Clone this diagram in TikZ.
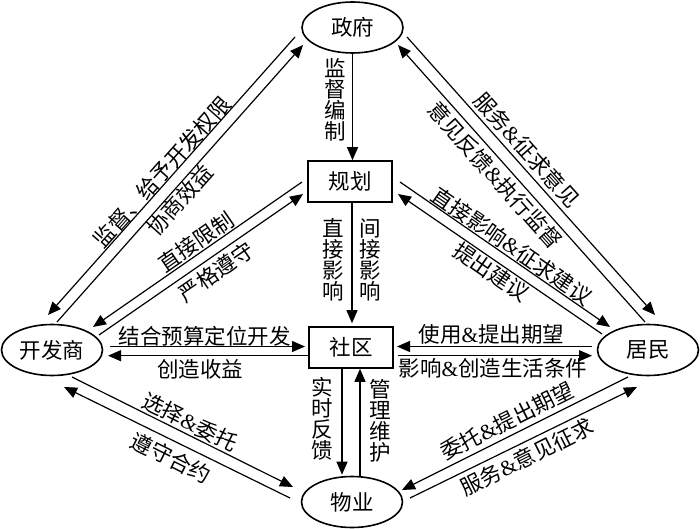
\documentclass[tikz,border=0pt]{standalone}
\usepackage{fontspec}
\setmainfont{Noto Sans CJK SC}
\newfontfamily\latinf{Liberation Serif}
\usetikzlibrary{arrows.meta,calc,shapes.geometric}
\newcommand\amp{{\latinf\&}}
\begin{document}
\begin{tikzpicture}[x=1pt,y=-1pt,
  every node/.style={font=\fontsize{21.5}{21}\selectfont, inner sep=0pt},
  ell/.style={draw, ellipse, line width=1.6pt, minimum width=101pt, minimum height=51pt},
  box/.style={draw, rectangle, line width=1.6pt, minimum width=84pt, minimum height=41pt},
  arr/.style={line width=1.2pt, -{Triangle[length=13pt,width=11pt]}},
  vlbl/.style={align=center}
]
\useasboundingbox (0,0) rectangle (700,529);
% nodes
\node[ell] (zf) at (352.5,27.5) {政府};
\node[box] (gh) at (350,181.5) {规划};
\node[box] (sq) at (351,347.5) {社区};
\node[ell] (kfs) at (52,350) {开发商};
\node[ell] (jm) at (648,350) {居民};
\node[ell] (wy) at (352,502) {物业};
% vertical
\draw[arr] (zf.south) -- (zf.south |- gh.north);
\draw[arr] ($(gh.south)+(2,0)$) -- ($(sq.north)+(1,-3)$);
\draw[arr] ($(sq.south)+(-9,0)$) -- ($(wy.north)+(-10,-1)$);
\draw[arr] ($(wy.north)+(8,0)$) -- ($(sq.south)+(9,0)$);
% horizontal
\draw[arr] ($(kfs)+(58,-3.5)$) -- ($(sq)+(-46,-1)$);
\draw[arr] ($(sq)+(-42,8.2)$) -- ($(kfs)+(56,5.7)$);
\draw[arr] ($(jm)+(-56,-3.5)$) -- ($(sq)+(46,-1)$);
\draw[arr] ($(sq)+(47,8.2)$) -- ($(jm)+(-56,5.7)$);
% diagonals upper left
\draw[arr] ($(zf)+(-57.5,9.5)$) -- ($(kfs)+(-4,-35)$);
\draw[arr] ($(kfs)+(5,-28)$) -- ($(zf)+(-49.5,17.5)$);
\draw[arr] ($(gh)+(-48,0.5)$) -- ($(kfs)+(41,-23)$);
\draw[arr] ($(kfs)+(47,-15)$) -- ($(gh)+(-47,12.5)$);
% diagonals upper right
\draw[arr] ($(zf)+(54.5,9.5)$) -- ($(jm)+(7,-35)$);
\draw[arr] ($(jm)+(-3,-28)$) -- ($(zf)+(45.5,17.5)$);
\draw[arr] ($(gh)+(50,0.5)$) -- ($(jm)+(-38,-23)$);
\draw[arr] ($(jm)+(-46,-16)$) -- ($(gh)+(48,12.5)$);
% lower
\draw[arr] ($(kfs)+(20,27)$) -- ($(wy)+(-59,-15)$);
\draw[arr] ($(wy)+(-62,-4)$) -- ($(kfs)+(12,37)$);
\draw[arr] ($(jm)+(-20,27)$) -- ($(wy)+(50,-12)$);
\draw[arr] ($(wy)+(58,-4)$) -- ($(jm)+(-11,37)$);
% diagonal labels
\node[rotate=48.4] (la) at (162,172) {监督、给予开发权限};
\node[rotate=48.4] (lb) at (180,200) {协商效益};
\node[rotate=34.7] (lc) at (196,242) {直接限制};
\node[rotate=34.7] (ld) at (216,272) {严格遵守};
\node[rotate=-48.3] (le) at (527,150) {服务\amp 征求意见};
\node[rotate=-48.3] (lf) at (495,175) {意见反馈\amp 执行监督};
\node[rotate=-34.6] (lg) at (512,246) {直接影响\amp 征求建议};
\node[rotate=-34.6] (lh) at (491,272) {提出建议};
\node[rotate=-26.5] (l1) at (190,422) {选择\amp 委托};
\node[rotate=-26.5] (l2) at (171,458) {遵守合约};
\node[rotate=26.6] (r1) at (507,421) {委托\amp 提出期望};
\node[rotate=26.6] (r2) at (527,457) {服务\amp 意见征求};
% horizontal labels
\node (h1) at (204.5,336) {结合预算定位开发};
\node (h2) at (200,369) {创造收益};
\node (h3) at (491.5,334) {使用\amp 提出期望};
\node (h4) at (493,368) {影响\amp 创造生活条件};
% vertical labels
\node[vlbl] (v1) at (335,100) {监\\督\\编\\制};
\node[vlbl] (v2) at (333,260) {直\\接\\影\\响};
\node[vlbl] (v3) at (370,260) {间\\接\\影\\响};
\node[vlbl] (v4) at (322,419) {实\\时\\反\\馈};
\node[vlbl] (v5) at (380,421) {管\\理\\维\\护};
\end{tikzpicture}
\end{document}
